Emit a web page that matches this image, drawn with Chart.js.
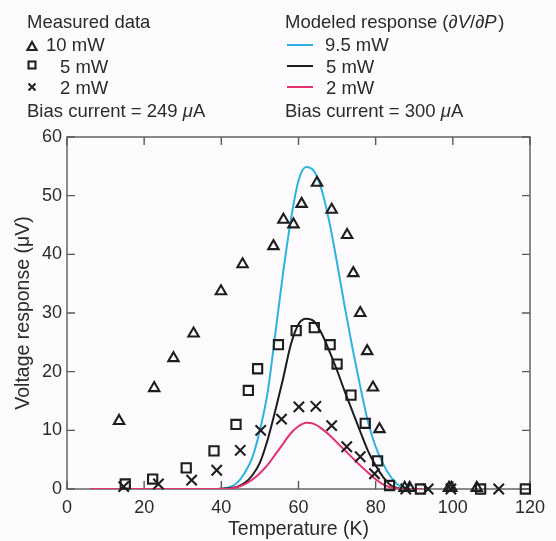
<!DOCTYPE html>
<html><head><meta charset="utf-8">
<script src="https://cdn.jsdelivr.net/npm/chart.js@4/dist/chart.umd.min.js"></script>
<style>
html,body{margin:0;padding:0;background:#fdfbfd;}
#wrap{position:relative;width:556px;height:541px;overflow:hidden;font-family:"Liberation Sans",Arial,Helvetica,sans-serif;color:#2b2b2b;}
#c{position:absolute;left:0;top:0;}
.t{position:absolute;font-size:18.5px;white-space:nowrap;line-height:22px;}
svg.m{position:absolute;overflow:visible;}
</style></head>
<body><div id="wrap">
<canvas id="c" width="556" height="541"></canvas>
<div class="t" style="left:27px;top:11px">Measured data</div>
<svg class="m" style="left:27px;top:41px" width="10" height="10"><polygon points="5,1 9.5,9 0.5,9" fill="none" stroke="#222" stroke-width="2.2"/></svg>
<div class="t" style="left:46px;top:33.6px">10 mW</div>
<svg class="m" style="left:27px;top:60px" width="10" height="10"><rect x="1.5" y="1.5" width="7" height="7" fill="none" stroke="#222" stroke-width="2.1"/></svg>
<div class="t" style="left:60px;top:55.6px">5 mW</div>
<svg class="m" style="left:27px;top:82px" width="10" height="10"><path d="M1.5,1.5 L8.5,8.5 M8.5,1.5 L1.5,8.5" stroke="#222" stroke-width="2.1"/></svg>
<div class="t" style="left:60px;top:77.2px">2 mW</div>
<div class="t" style="left:27px;top:99.6px">Bias current = 249 <i>μ</i>A</div>

<div class="t" style="left:285px;top:11px">Modeled response (<i>∂V</i>/<i>∂P</i>&#8202;)</div>
<svg class="m" style="left:286px;top:40px" width="30" height="10"><line x1="1" y1="5" x2="27" y2="5" stroke="#2cb3e4" stroke-width="2"/></svg>
<div class="t" style="left:325px;top:33.6px">9.5 mW</div>
<svg class="m" style="left:286px;top:60.5px" width="30" height="10"><line x1="1" y1="5" x2="27" y2="5" stroke="#1c1c1c" stroke-width="2"/></svg>
<div class="t" style="left:326px;top:55.6px">5 mW</div>
<svg class="m" style="left:286px;top:82px" width="30" height="10"><line x1="1" y1="5" x2="27" y2="5" stroke="#e3336e" stroke-width="2"/></svg>
<div class="t" style="left:326px;top:77.2px">2 mW</div>
<div class="t" style="left:285px;top:99.6px">Bias current = 300 <i>μ</i>A</div>
</div>
<script>
// ---- Measured data (bias 249 uA) ----
const tri10T = [13.5, 22.6, 27.6, 32.8, 39.9, 45.5, 53.5, 56.1, 58.7, 60.8, 64.8, 68.6, 72.6, 74.2, 76.0, 77.8, 79.3, 81.0, 87.5, 88.8, 99.0, 99.6, 106.2];
const tri10V = [11.6, 17.2, 22.3, 26.5, 33.7, 38.3, 41.4, 45.9, 45.1, 48.6, 52.2, 47.6, 43.3, 36.8, 30.0, 23.5, 17.3, 10.2, 0.2, 0.2, 0.2, 0.2, 0.2];
const sq5T = [15.1, 22.2, 30.9, 38.1, 43.8, 47.0, 49.4, 54.8, 59.4, 64.1, 68.2, 70.0, 73.6, 77.3, 80.5, 83.6, 91.6, 107.2, 118.8];
const sq5V = [0.85, 1.7, 3.6, 6.5, 11.0, 16.8, 20.5, 24.6, 27.0, 27.5, 24.6, 21.3, 16.0, 11.2, 4.8, 0.6, 0, 0, 0];
const x2T = [14.7, 23.7, 32.3, 38.8, 44.9, 50.2, 55.6, 60.1, 64.5, 68.6, 72.5, 76.0, 79.7, 87.8, 93.6, 99.5, 111.9];
const x2V = [0.4, 0.85, 1.5, 3.2, 6.6, 10.0, 11.9, 14.0, 14.1, 10.8, 7.2, 5.5, 2.6, 0, 0, 0, 0];
// ---- Modeled response (bias 300 uA) ----
const curveT = [6, 38, 40, 42, 44, 46, 48, 50, 52, 54, 56, 58, 60, 62, 64, 66, 68, 70, 72, 74, 76, 78, 80, 82, 84, 86, 88, 92];
const model95 = [0, 0, 0.05, 0.3, 1.0, 2.7, 5.3, 10, 16.5, 26.5, 36.8, 45.8, 52.6, 54.9, 54.2, 51, 45.5, 38.5, 31, 24, 17.5, 11.5, 7.2, 4.2, 2, 0.6, 0.1, 0];
const model5 = [0, 0, 0.05, 0.15, 0.35, 1.0, 2.3, 4.5, 8.4, 13.4, 18.8, 24.6, 28.1, 29, 28.6, 26.5, 23.5, 20.2, 16.6, 13.2, 9.8, 6.5, 4, 2, 0.6, 0.1, 0, 0];
const model2 = [0, 0, 0, 0.05, 0.3, 0.8, 1.6, 2.7, 4.1, 5.9, 7.7, 9.5, 10.7, 11.3, 11.1, 10.3, 9.2, 7.9, 6.6, 5.3, 4.0, 2.8, 1.65, 0.75, 0.25, 0.05, 0, 0];
const xTicks = [0, 20, 40, 60, 80, 100, 120];
const yTicks = [0, 10, 20, 30, 40, 50, 60];

const pts = (xs, ys) => xs.map((x, i) => ({x, y: ys[i]}));
const FONT = '"Liberation Sans", Arial, Helvetica, sans-serif';
const TXT = '#2b2b2b';

const framePlugin = {
  id: 'frame',
  beforeDatasetsDraw(chart) {
    const {ctx, chartArea: a, scales: {x, y}} = chart;
    ctx.save();
    ctx.strokeStyle = '#5a5a5a';
    ctx.lineWidth = 1.4;
    ctx.strokeRect(a.left, a.top, a.right - a.left, a.bottom - a.top);
    ctx.beginPath();
    xTicks.forEach(v => {
      const p = x.getPixelForValue(v);
      ctx.moveTo(p, a.bottom); ctx.lineTo(p, a.bottom - 8);
      ctx.moveTo(p, a.top); ctx.lineTo(p, a.top + 8);
    });
    yTicks.forEach(v => {
      const p = y.getPixelForValue(v);
      ctx.moveTo(a.left, p); ctx.lineTo(a.left + 8, p);
      ctx.moveTo(a.right, p); ctx.lineTo(a.right - 8, p);
    });
    ctx.stroke();
    ctx.restore();
  }
};

const markerBase = {showLine: false, borderColor: '#1e1e1e', backgroundColor: 'rgba(0,0,0,0)', borderWidth: 2.1, clip: false, pointHoverRadius: 0};
const lineBase = {showLine: true, pointRadius: 0, borderWidth: 2, cubicInterpolationMode: 'monotone', fill: false};

new Chart(document.getElementById('c'), {
  type: 'scatter',
  data: {
    datasets: [
      Object.assign({label: '10 mW', data: pts(tri10T, tri10V), pointStyle: 'triangle', pointRadius: 6, order: 1}, markerBase),
      Object.assign({label: '5 mW', data: pts(sq5T, sq5V), pointStyle: 'rect', pointRadius: 6.5, order: 1}, markerBase),
      Object.assign({label: '2 mW', data: pts(x2T, x2V), pointStyle: 'crossRot', pointRadius: 7.3, order: 1}, markerBase),
      Object.assign({label: '9.5 mW model', data: pts(curveT, model95), borderColor: '#2cb3e4', order: 4}, lineBase),
      Object.assign({label: '5 mW model', data: pts(curveT, model5), borderColor: '#1c1c1c', order: 3}, lineBase),
      Object.assign({label: '2 mW model', data: pts(curveT, model2), borderColor: '#e3336e', order: 2}, lineBase)
    ]
  },
  options: {
    responsive: false,
    animation: false,
    devicePixelRatio: 1,
    layout: {padding: {top: 137, right: 26, bottom: 0, left: 0}},
    plugins: {legend: {display: false}, tooltip: {enabled: false}},
    scales: {
      x: {
        type: 'linear', min: 0, max: 120,
        afterBuildTicks: s => { s.ticks = xTicks.map(v => ({value: v})); },
        afterFit: s => { s.height = 52; },
        grid: {display: false, drawTicks: false},
        border: {display: false},
        ticks: {padding: 8, color: TXT, font: {family: FONT, size: 18}, maxRotation: 0},
        title: {display: true, text: 'Temperature (K)', color: TXT, font: {family: FONT, size: 19.5}, padding: {top: 0, bottom: 0}}
      },
      y: {
        type: 'linear', min: 0, max: 60,
        afterBuildTicks: s => { s.ticks = yTicks.map(v => ({value: v})); },
        afterFit: s => { s.width = 67; },
        grid: {display: false, drawTicks: false},
        border: {display: false},
        ticks: {padding: 5, color: TXT, font: {family: FONT, size: 18}},
        title: {display: true, text: 'Voltage response (μV)', color: TXT, font: {family: FONT, size: 19.5}, padding: {top: 12, bottom: 0}}
      }
    }
  },
  plugins: [framePlugin]
});
</script>
</body></html>
